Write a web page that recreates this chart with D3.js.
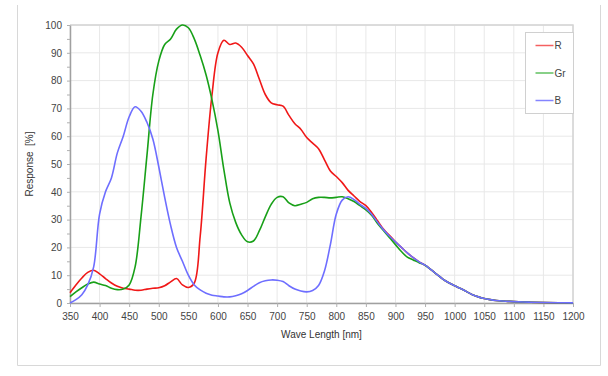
<!DOCTYPE html>
<html>
<head>
<meta charset="utf-8">
<script src="https://cdn.jsdelivr.net/npm/d3@7"></script>
<style>
  body { margin: 0; background: #fff; }
  text { font-family: Arial, "Liberation Sans", sans-serif; }
</style>
</head>
<body>
<div id="chart"></div>
<script>
// wavelength samples (nm)
const waveLengths = [350, 360, 370, 380, 390, 400, 410, 420, 430, 440, 450, 460, 470, 480, 490,
  500, 510, 520, 530, 540, 550, 560, 570, 580, 590, 600, 610, 620, 630, 640, 650, 660, 670, 680, 690,
  700, 710, 720, 730, 740, 750, 760, 770, 780, 790, 800, 810, 820, 830, 840, 850, 860, 870, 880, 890,
  900, 910, 920, 930, 940, 950, 960, 970, 980, 990, 1000, 1010, 1020, 1030, 1040, 1050, 1060, 1070,
  1080, 1090, 1100, 1125, 1150, 1175, 1200];

const tail = [13.6, 12.0, 10.3, 8.6, 7.3, 6.2, 5.2, 4.1, 3.0, 2.2, 1.6, 1.2, 0.9, 0.7, 0.6, 0.5, 0.3, 0.2, 0.1, 0.05];

const responseR = [3.7, 6.5, 9.0, 11.0, 11.8, 10.5, 8.8, 7.2, 6.0, 5.3, 5.0, 4.6, 4.6, 5.0, 5.3,
  5.5, 6.2, 7.6, 8.8, 6.5, 5.6, 7.2, 24, 52, 75, 90, 94.5, 93, 93.5, 92, 89, 86, 80.5, 75, 72,
  71.3, 70.8, 67.5, 64.5, 62.5, 59.5, 57.5, 55.5, 51.5, 47.5, 45.5, 43.3, 40.5, 38.5, 36.5, 35, 32.5, 29.5, 26.5, 24.3,
  22, 20, 18, 16.3, 14.8].concat(tail);

const responseGr = [2.3, 4.0, 5.5, 6.8, 7.5, 6.8, 6.3, 5.3, 4.8, 5.0, 6.5, 13, 31, 53, 75,
  87, 93, 95, 98.5, 100, 99, 95, 89, 82, 73, 62, 48, 36, 29, 24.5, 22, 22.3, 26, 31, 35.5,
  38, 38.2, 36, 35, 35.5, 36.2, 37.5, 38, 38, 37.8, 38, 38.2, 37.5, 36.5, 35, 33.5, 31.5, 28.5, 26, 23.5,
  21, 18.5, 16.5, 15.5, 14.5].concat(tail);

const responseB = [0, 1.2, 3.0, 6.5, 13, 32, 40, 45, 54, 60, 67, 70.6, 69, 65, 59,
  49, 38, 28, 20, 15, 10, 6.5, 4.7, 3.5, 2.8, 2.5, 2.2, 2.2, 2.6, 3.3, 4.5, 6, 7.3, 8.0, 8.3,
  8.2, 7.7, 6.2, 5, 4.3, 4, 4.5, 6.3, 11.5, 21, 32, 37, 38.2, 37.2, 35.5, 34, 31.8, 29, 26.3, 24,
  22, 20, 18, 16.3, 14.8].concat(tail);

const seriesNames = ["R", "Gr", "B"];
const seriesColors = ["#f01818", "#18a018", "#6e6eff"];
const legendColors = ["#f46060", "#60c060", "#8484ff"];
const xTicks = d3.range(350, 1201, 50);
const yTicks = d3.range(0, 101, 10);

const W = 608, H = 376;
const margin = { top: 25, right: 35, bottom: 73, left: 70 };
const width = W - margin.left - margin.right;
const height = H - margin.top - margin.bottom;

const svg = d3.select("#chart").append("svg")
    .attr("width", W)
    .attr("height", H);

// outer frame
svg.append("path")
    .attr("d", "M17.5,5 V365.5 H600.5 V5")
    .attr("fill", "none")
    .attr("stroke", "#d8d8d8");

const g = svg.append("g")
    .attr("transform", "translate(" + margin.left + "," + margin.top + ")");

const x = d3.scaleLinear().domain([350, 1200]).range([0, width]);
const y = d3.scaleLinear().domain([0, 100]).range([height, 0]);

// grid
g.selectAll(".vgrid")
    .data(xTicks)
    .enter().append("line")
    .attr("x1", d => x(d)).attr("x2", d => x(d))
    .attr("y1", 0).attr("y2", height)
    .attr("stroke", "#e8e8e8");

g.selectAll(".hgrid")
    .data(yTicks)
    .enter().append("line")
    .attr("x1", 0).attr("x2", width)
    .attr("y1", d => y(d)).attr("y2", d => y(d))
    .attr("stroke", "#e8e8e8");

// top and right border
g.append("path")
    .attr("d", "M0,0 H" + width + " V" + height)
    .attr("fill", "none")
    .attr("stroke", "#d4d4d4")
    .attr("stroke-width", 1.5);

// axes
const xAxis = g.append("g")
    .attr("transform", "translate(0," + height + ")")
    .call(d3.axisBottom(x).tickValues(xTicks).tickFormat(d3.format("d"))
      .tickSize(4).tickPadding(6).tickSizeOuter(0));

const yAxis = g.append("g")
    .call(d3.axisLeft(y).tickValues(d3.range(0, 101, 5)).tickSize(3).tickPadding(5).tickSizeOuter(0)
      .tickFormat(d => d % 10 === 0 ? d : ""));

[xAxis, yAxis].forEach(ax => {
    ax.select(".domain").attr("stroke", "#a0a0a0").attr("stroke-width", 1.5);
    ax.selectAll(".tick line").attr("stroke", "#b0b0b0");
    ax.selectAll(".tick text")
        .attr("fill", "#444")
        .style("font-size", "10px")
        .style("font-family", "Arial, 'Liberation Sans', sans-serif");
});

// series lines
const line = d3.line()
    .x((d, i) => x(waveLengths[i]))
    .y(d => y(d))
    .curve(d3.curveCatmullRom.alpha(0.5));

const seriesValues = [responseR, responseGr, responseB];

g.selectAll(".series")
    .data(seriesValues)
    .enter().append("path")
    .attr("d", d => line(d))
    .attr("fill", "none")
    .attr("stroke", (d, i) => seriesColors[i])
    .attr("stroke-width", 1.6);

// legend
const legend = svg.append("g").attr("transform", "translate(525.5,32.5)");
legend.append("rect")
    .attr("width", 48).attr("height", 81)
    .attr("fill", "#fff")
    .attr("stroke", "#d0d0d0");

seriesNames.forEach((name, i) => {
    const ly = 13 + i * 27.5;
    legend.append("line")
        .attr("x1", 10).attr("x2", 28)
        .attr("y1", ly).attr("y2", ly)
        .attr("stroke", legendColors[i])
        .attr("stroke-width", 1.5);
    legend.append("text")
        .attr("x", 29).attr("y", ly + 3.5)
        .attr("font-size", "10px")
        .attr("fill", "#444")
        .text(name);
});

// axis titles
svg.append("text")
    .attr("x", margin.left + width / 2)
    .attr("y", 338)
    .attr("text-anchor", "middle")
    .attr("font-size", "10px")
    .attr("fill", "#333")
    .text("Wave Length [nm]");

svg.append("text")
    .attr("transform", "translate(33," + (margin.top + height / 2) + ") rotate(-90)")
    .attr("text-anchor", "middle")
    .attr("font-size", "10px")
    .attr("fill", "#333")
    .style("white-space", "pre")
    .text("Response  [%]");
</script>
</body>
</html>
